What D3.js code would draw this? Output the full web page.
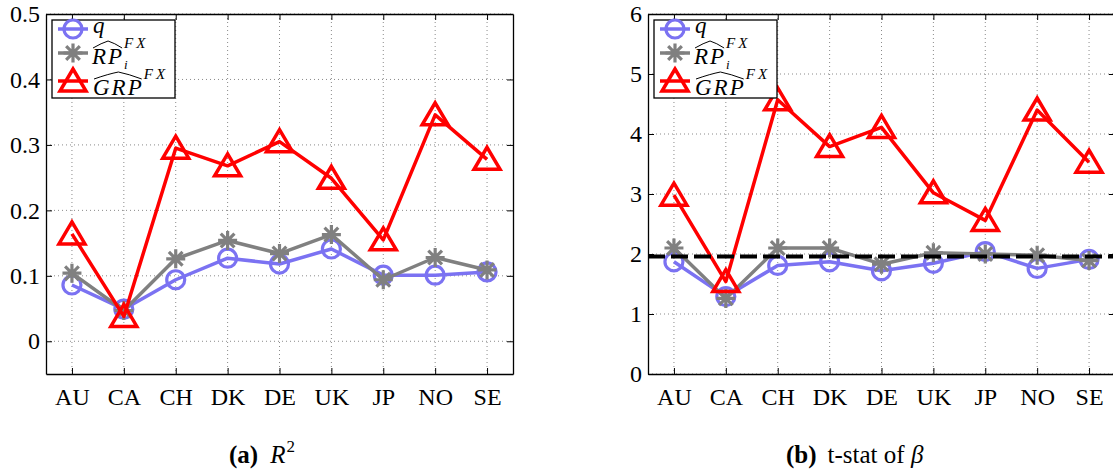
<!DOCTYPE html>
<html>
<head>
<meta charset="utf-8">
<script src="https://cdn.jsdelivr.net/npm/d3@7"></script>
<style>
  html, body { margin: 0; padding: 0; background: #fff; }
  svg { display: block; }
</style>
</head>
<body>
<svg id="chart" width="1113" height="473"></svg>
<script>
// ---------------- data ----------------
const categories = ["AU", "CA", "CH", "DK", "DE", "UK", "JP", "NO", "SE"];

// panel (a): R^2
const r2Q   = [0.086, 0.049, 0.094, 0.127, 0.118, 0.141, 0.101, 0.101, 0.106];
const r2RP  = [0.104, 0.047, 0.126, 0.154, 0.134, 0.163, 0.094, 0.128, 0.109];
const r2GRP = [0.164, 0.038, 0.295, 0.268, 0.305, 0.249, 0.155, 0.346, 0.278];
const r2Ticks = [0, 0.1, 0.2, 0.3, 0.4, 0.5];
const r2TickLabels = ["0", "0.1", "0.2", "0.3", "0.4", "0.5"];

// panel (b): t-stat of beta
const tQ   = [1.87, 1.29, 1.81, 1.87, 1.72, 1.845, 2.04, 1.76, 1.91];
const tRP  = [2.10, 1.26, 2.10, 2.10, 1.83, 2.02, 2.00, 1.98, 1.89];
const tGRP = [2.98, 1.54, 4.57, 3.79, 4.11, 3.02, 2.56, 4.40, 3.53];
const tTicks = [0, 1, 2, 3, 4, 5, 6];
const tTickLabels = ["0", "1", "2", "3", "4", "5", "6"];
const criticalValue = [1.96];

// ---------------- style ----------------
const SERIF = "'Liberation Serif', 'DejaVu Serif', serif";
const BLUE = "#7b72f2";
const GRAY = "#808080";
const RED = "#ff0000";
const LW = 3.5;

const svg = d3.select("#chart");

function marker(g, type, x, y) {
  if (type === "circle") {
    g.append("circle").attr("cx", x).attr("cy", y).attr("r", 9)
      .attr("fill", "none").attr("stroke", BLUE).attr("stroke-width", 3.2);
  } else if (type === "star") {
    const s = 9.5, d = s * 0.72;
    const p = `M${x - s},${y}L${x + s},${y}M${x},${y - s}L${x},${y + s}` +
              `M${x - d},${y - d}L${x + d},${y + d}M${x - d},${y + d}L${x + d},${y - d}`;
    g.append("path").attr("d", p).attr("stroke", GRAY).attr("stroke-width", 3.2).attr("fill", "none");
  } else {
    const p = `M${x},${y - 12}L${x + 13},${y + 10}L${x - 13},${y + 10}Z`;
    g.append("path").attr("d", p).attr("stroke", RED).attr("stroke-width", 3.5)
      .attr("fill", "none").attr("stroke-linejoin", "miter");
  }
}

function mathLabel(g, x, baseline, base, sup, sub) {
  const t = g.append("text").attr("x", x).attr("y", baseline)
    .attr("font-family", SERIF).attr("font-style", "italic")
    .attr("font-size", 23).attr("letter-spacing", 2).text(base);
  const w = t.node().getComputedTextLength();
  if (sup) {
    // wide hat
    const hy = baseline - 22;
    g.append("path")
      .attr("d", `M${x + 1},${hy + 6}Q${x + w * 0.3},${hy + 1} ${x + w / 2},${hy - 1}Q${x + w * 0.7},${hy + 1} ${x + w - 2},${hy + 6}`)
      .attr("fill", "none").attr("stroke", "#000").attr("stroke-width", 1);
    g.append("text").attr("x", x + w).attr("y", baseline - 16)
      .attr("font-family", SERIF).attr("font-style", "italic")
      .attr("font-size", 15).attr("letter-spacing", 3).text(sup);
  }
  if (sub) {
    g.append("text").attr("x", x + w).attr("y", baseline + 5)
      .attr("font-family", SERIF).attr("font-style", "italic")
      .attr("font-size", 13).text(sub);
  }
}

function drawPanel(cfg) {
  const x = d3.scaleLinear().domain([0.5, categories.length + 0.5]).range([cfg.left, cfg.left + 467]);
  const y = d3.scaleLinear().domain(cfg.yDomain).range([374, 14]);
  const g = svg.append("g");
  const top = 14, bottom = 374, left = cfg.left, right = cfg.left + 467;

  // grid
  const grid = g.append("g").attr("stroke", "#8a8a8a").attr("stroke-width", 1).attr("stroke-dasharray", "1,3");
  categories.forEach((c, i) => {
    grid.append("line").attr("x1", x(i + 1)).attr("x2", x(i + 1)).attr("y1", top).attr("y2", bottom);
  });
  cfg.ticks.forEach(v => {
    grid.append("line").attr("x1", left).attr("x2", right).attr("y1", y(v)).attr("y2", y(v));
  });

  // axes (box with inward ticks on all sides)
  const xTickVals = categories.map((c, i) => i + 1);
  const axB = d3.axisBottom(x).tickValues(xTickVals).tickSizeInner(-6).tickSizeOuter(0)
    .tickFormat(d => categories[d - 1]).tickPadding(14);
  const axT = d3.axisTop(x).tickValues(xTickVals).tickSizeInner(-6).tickSizeOuter(0).tickFormat("");
  const axL = d3.axisLeft(y).tickValues(cfg.ticks).tickSizeInner(-6).tickSizeOuter(0)
    .tickFormat((d, i) => cfg.tickLabels[i]).tickPadding(4);
  const axR = d3.axisRight(y).tickValues(cfg.ticks).tickSizeInner(-6).tickSizeOuter(0).tickFormat("");

  const styleAxis = sel => {
    sel.selectAll("path").attr("stroke", "#000").attr("stroke-width", 1.3);
    sel.selectAll("line").attr("stroke", "#000").attr("stroke-width", 1);
    sel.selectAll("text").attr("font-family", SERIF).attr("font-size", 24).attr("fill", "#000");
  };
  g.append("g").attr("transform", `translate(0,${bottom})`).call(axB).call(styleAxis)
    .selectAll("text").attr("dy", "0.71em");
  g.append("g").attr("transform", `translate(0,${top})`).call(axT).call(styleAxis);
  g.append("g").attr("transform", `translate(${left},0)`).call(axL).call(styleAxis)
    .selectAll("text").attr("dx", "-2");
  g.append("g").attr("transform", `translate(${right},0)`).call(axR).call(styleAxis);

  // series
  const line = d3.line().x((d, i) => x(i + 1)).y(d => y(d));
  const series = [
    { vals: cfg.q, color: BLUE, m: "circle" },
    { vals: cfg.rp, color: GRAY, m: "star" },
    { vals: cfg.grp, color: RED, m: "tri" }
  ];
  series.forEach(s => {
    const sg = g.append("g");
    sg.append("path").datum(s.vals).attr("d", line).attr("fill", "none")
      .attr("stroke", s.color).attr("stroke-width", LW).attr("stroke-linejoin", "round");
    s.vals.forEach((v, i) => marker(sg, s.m, x(i + 1), y(v)));
  });

  if (cfg.critical) {
    cfg.critical.forEach(c => {
      g.append("line").attr("x1", left).attr("x2", right).attr("y1", y(c)).attr("y2", y(c))
        .attr("stroke", "#000").attr("stroke-width", 4).attr("stroke-dasharray", "17,6");
    });
  }

  // legend
  const bx = left + 6, by = 20;
  const lg = g.append("g");
  lg.append("rect").attr("x", bx).attr("y", by).attr("width", 123).attr("height", 78)
    .attr("fill", "#fff").attr("stroke", "#000").attr("stroke-width", 1.3);
  const rows = [
    { y: by + 9, color: BLUE, m: "circle" },
    { y: by + 33, color: GRAY, m: "star" },
    { y: by + 61, color: RED, m: "tri" }
  ];
  rows.forEach(r => {
    lg.append("line").attr("x1", bx + 6).attr("x2", bx + 36).attr("y1", r.y).attr("y2", r.y)
      .attr("stroke", r.color).attr("stroke-width", LW);
    marker(lg, r.m, bx + 21, r.y);
  });
  lg.append("text").attr("x", bx + 41).attr("y", by + 13).attr("font-family", SERIF)
    .attr("font-style", "italic").attr("font-size", 23).text("q");
  mathLabel(lg, bx + 40, by + 44, "RP", "FX", "i");
  mathLabel(lg, bx + 41, by + 75, "GRP", "FX", null);

  // caption
  const cap = svg.append("text").attr("x", cfg.capX).attr("y", 463)
    .attr("font-family", SERIF).attr("font-size", 25).attr("fill", "#000");
  cfg.caption(cap);
}

drawPanel({
  left: 46, yDomain: [-0.05, 0.5], ticks: r2Ticks, tickLabels: r2TickLabels,
  q: r2Q, rp: r2RP, grp: r2GRP, critical: null, capX: 229,
  caption: t => {
    t.append("tspan").attr("font-weight", "bold").text("(a)");
    t.append("tspan").attr("font-style", "italic").attr("dx", 12).text("R");
    t.append("tspan").attr("font-size", 17).attr("dy", -11).attr("dx", 1).text("2");
  }
});

drawPanel({
  left: 648, yDomain: [0, 6], ticks: tTicks, tickLabels: tTickLabels,
  q: tQ, rp: tRP, grp: tGRP, critical: criticalValue, capX: 786,
  caption: t => {
    t.append("tspan").attr("font-weight", "bold").text("(b)");
    t.append("tspan").attr("dx", 11).text("t-stat of ");
    t.append("tspan").attr("font-style", "italic").text("β");
  }
});
</script>
</body>
</html>
